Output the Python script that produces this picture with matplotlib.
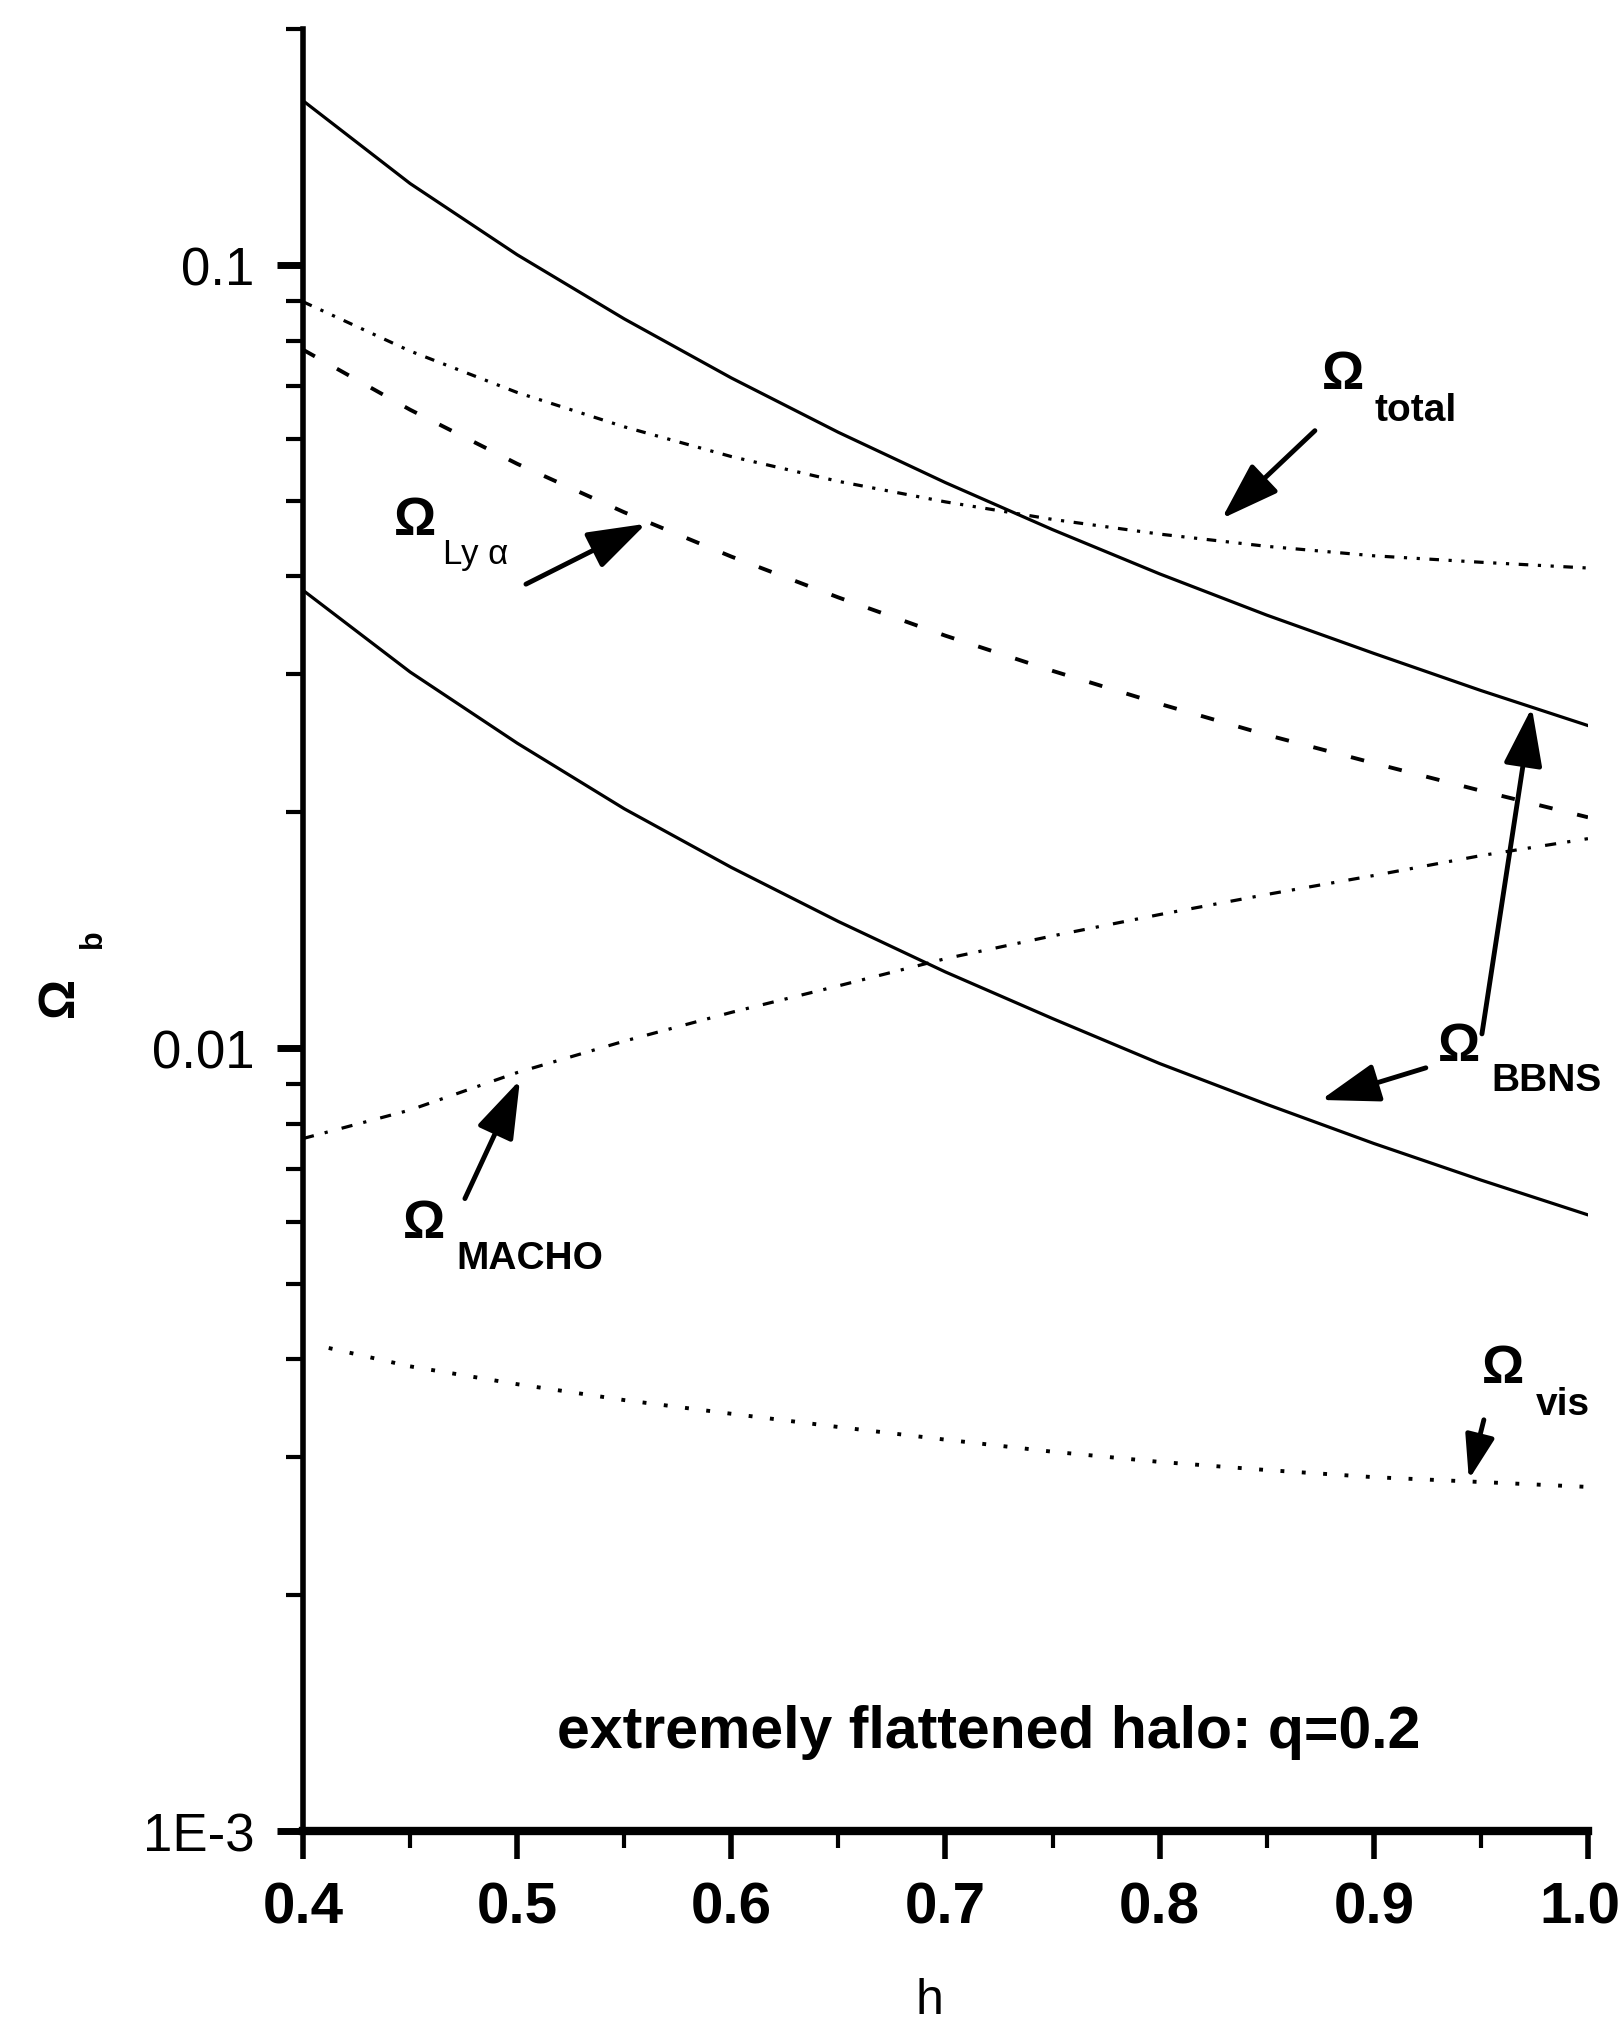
import matplotlib.pyplot as plt
from matplotlib.ticker import FixedLocator, LogLocator, NullFormatter
from matplotlib.transforms import ScaledTranslation
import numpy as np

plt.rcParams['font.family'] = ['Liberation Sans', 'DejaVu Sans']

# values
h = [0.40, 0.45, 0.50, 0.55, 0.60, 0.65, 0.70, 0.75, 0.80, 0.85, 0.90, 0.95, 1.00]
omega_bbns_high = [0.162, 0.127, 0.103, 0.0853, 0.0717, 0.0611, 0.0527,
                   0.0459, 0.0403, 0.0357, 0.0319, 0.0286, 0.0258]
omega_bbns_low = [0.0384, 0.0302, 0.0245, 0.0202, 0.0170, 0.0145, 0.0125,
                  0.0109, 0.00955, 0.00847, 0.00755, 0.00678, 0.00612]
omega_total = [0.0897, 0.0776, 0.0687, 0.0621, 0.0569, 0.0529, 0.0498,
               0.0473, 0.0453, 0.0437, 0.0425, 0.0417, 0.0410]
omega_lya = [0.0779, 0.0653, 0.0557, 0.0483, 0.0424, 0.0376, 0.0336,
             0.0303, 0.0275, 0.0251, 0.0231, 0.0213, 0.0197]
omega_macho = [0.00766, 0.00833, 0.00930, 0.0102, 0.0111, 0.0120, 0.0130,
               0.0139, 0.0148, 0.0157, 0.0166, 0.0176, 0.0185]
omega_vis = [0.00415, 0.00392, 0.00372, 0.00355, 0.00341, 0.00328, 0.00316,
             0.00305, 0.00296, 0.00289, 0.00283, 0.00279, 0.00275]

x_ticks = [0.4, 0.5, 0.6, 0.7, 0.8, 0.9, 1.0]
x_labels = ['0.4', '0.5', '0.6', '0.7', '0.8', '0.9', '1.0']
y_ticks = [1e-3, 1e-2, 1e-1]
y_labels = ['1E-3', '0.01', '0.1']

fig = plt.figure(figsize=(16.23, 20.31), dpi=100)
ax = fig.add_axes([0.1867, 0.098, 0.7917, 0.8872])

lw = 2.3
ax.plot(h, omega_bbns_high, color='k', lw=lw)
ax.plot(h, omega_bbns_low, color='k', lw=lw)
ax.plot(h, omega_total, color='k', lw=lw, ls=(0, (3, 3, 1, 3, 1, 3)))
ax.plot(h, omega_lya, color='k', lw=lw + 0.5, ls=(0, (3.5, 6.5)))
ax.plot(h, omega_macho, color='k', lw=lw, ls=(0, (3.5, 3.5, 1, 4.5)))
ax.plot(h[1:], omega_vis[1:], color='k', lw=lw + 0.5, ls=(0, (1, 4.5)))
ax.plot([0.412, h[1]], [omega_vis[0] * 0.997, omega_vis[1]], color='k',
        lw=lw + 0.5, ls=(0, (1, 4.5)))

ax.set_yscale('log')
ax.set_xlim(0.4, 1.0)
ax.set_ylim(1e-3, 0.2)

for side in ['top', 'right']:
    ax.spines[side].set_visible(False)
ax.spines['left'].set_linewidth(4)
ax.spines['bottom'].set_linewidth(6)

ax.xaxis.set_major_locator(FixedLocator(x_ticks))
ax.set_xticklabels(x_labels)
ax.xaxis.set_minor_locator(FixedLocator([0.45, 0.55, 0.65, 0.75, 0.85, 0.95]))
ax.yaxis.set_major_locator(FixedLocator(y_ticks))
ax.set_yticklabels(y_labels)
ax.yaxis.set_minor_locator(LogLocator(base=10, subs=np.arange(2, 10)))
ax.yaxis.set_minor_formatter(NullFormatter())

ax.tick_params(axis='x', which='major', direction='out', length=20, width=4,
               pad=16, labelsize=42)
ax.tick_params(axis='x', which='minor', direction='out', length=12, width=3)
ax.tick_params(axis='y', which='major', direction='out', length=19, width=5,
               pad=16, labelsize=38)
ax.tick_params(axis='y', which='minor', direction='out', length=12, width=3)
for lbl in ax.get_xticklabels():
    lbl.set_fontweight('bold')
# nudge the last label so it stays on the page
last = ax.get_xticklabels()[-1]
last.set_transform(last.get_transform()
                   + ScaledTranslation(-8 / 100, 0, fig.dpi_scale_trans))

# axis titles
fig.text(0.5724, 0.0148, 'h', fontsize=36, ha='center', va='center')
fig.text(0.037, 0.509, '\u03a9', fontsize=36, fontweight='bold', rotation=90,
         ha='center', va='center')
fig.text(0.0573, 0.5377, 'b', fontsize=22, fontweight='bold', rotation=90,
         ha='center', va='center')

arrow = dict(arrowstyle='-|>,head_length=0.9,head_width=0.3', lw=3.5,
             color='k', shrinkA=0, shrinkB=0, mutation_scale=40)
small_arrow = dict(arrow, mutation_scale=30)
big = dict(fontsize=38, fontweight='bold', ha='center', va='center')
sub = dict(fontsize=28, fontweight='bold', ha='left', va='center')

# Omega_total
ax.text(0.8856, 0.0726, '\u03a9', **big)
ax.text(0.9005, 0.0653, 'total', **sub)
ax.annotate('', xy=(0.829, 0.0474), xytext=(0.8725, 0.0614), arrowprops=arrow)

# Omega_Lya
ax.text(0.4523, 0.0472, '\u03a9', **big)
ax.text(0.4654, 0.0428, 'Ly \u03b1', fontsize=25, ha='left', va='center')
ax.annotate('', xy=(0.5602, 0.0467), xytext=(0.5041, 0.0391), arrowprops=arrow)

# Omega_MACHO
ax.text(0.4565, 0.00598, '\u03a9', **big)
ax.text(0.4714, 0.00539, 'MACHO', **sub)
ax.annotate('', xy=(0.5013, 0.0091), xytext=(0.4756, 0.00642), arrowprops=arrow)

# Omega_BBNS
ax.text(0.9398, 0.01006, '\u03a9', **big)
ax.text(0.9547, 0.0091, 'BBNS', **sub)
ax.annotate('', xy=(0.8753, 0.00858), xytext=(0.9243, 0.00943), arrowprops=arrow)
ax.annotate('', xy=(0.9738, 0.0272), xytext=(0.9505, 0.01042), arrowprops=arrow)

# Omega_vis
ax.text(0.9603, 0.0039, '\u03a9', **big)
ax.text(0.9757, 0.00351, 'vis', **sub)
ax.annotate('', xy=(0.9444, 0.00281), xytext=(0.9514, 0.00335),
            arrowprops=small_arrow)

ax.text(0.7203, 0.00134, 'extremely flattened halo: q=0.2', fontsize=42.5,
        fontweight='bold', ha='center', va='center')

fig.savefig('out.png', dpi=100)
